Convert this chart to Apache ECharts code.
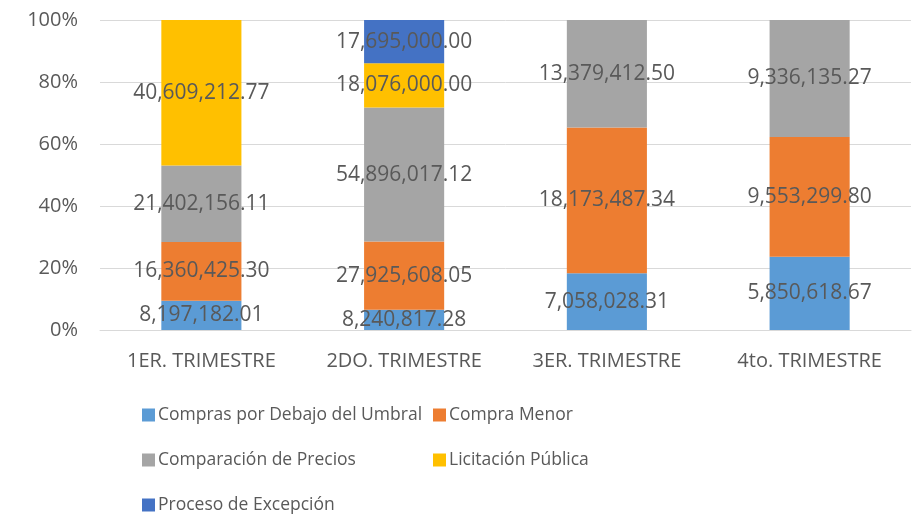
<!DOCTYPE html>
<html>
<head>
<meta charset="utf-8">
<script src="https://cdn.jsdelivr.net/npm/echarts@6/dist/echarts.min.js"></script>
<style>
  html, body { margin: 0; padding: 0; background: #fff; }
  #chart { width: 917px; height: 516px; }
</style>
</head>
<body>
<div id="chart"></div>
<script>
// datos por trimestre
const categories = ['1ER. TRIMESTRE', '2DO. TRIMESTRE', '3ER. TRIMESTRE', '4to. TRIMESTRE'];
const seriesNames = ['Compras por Debajo del Umbral', 'Compra Menor', 'Comparación de Precios', 'Licitación Pública', 'Proceso de Excepción'];
const umbral = [8197182.01, 8240817.28, 7058028.31, 5850618.67];
const menor = [16360425.30, 27925608.05, 18173487.34, 9553299.80];
const precios = [21402156.11, 54896017.12, 13379412.50, 9336135.27];
const licitacion = [40609212.77, 18076000.00, null, null];
const excepcion = [null, 17695000.00, null, null];
const yTicks = [0, 20, 40, 60, 80, 100];

const raw = [umbral, menor, precios, licitacion, excepcion];
const colors = ['#5B9BD5', '#ED7D31', '#A5A5A5', '#FFC000', '#4472C4'];
const font = 'Open Sans';
const txt = '#595959';

const totals = categories.map((c, i) => raw.reduce((s, arr) => s + (arr[i] || 0), 0));

const fmt = v => v.toLocaleString('en-US', { minimumFractionDigits: 2, maximumFractionDigits: 2 });

const series = seriesNames.map((name, k) => ({
    name: name,
    type: 'bar',
    stack: 'total',
    barWidth: '39.5%',
    itemStyle: { color: colors[k] },
    data: raw[k].map((v, i) => v == null ? null : { value: v / totals[i] * 100, raw: v }),
    label: {
        show: true,
        position: 'inside',
        color: txt,
        fontFamily: font,
        fontSize: 21,
        formatter: p => fmt(p.data.raw)
    }
}));

// leyenda en dos columnas
const legendPos = [[137, 401], [428, 401], [137, 446], [428, 446], [137, 491]];
const legends = seriesNames.map((name, k) => ({
    data: [name],
    left: legendPos[k][0],
    top: legendPos[k][1],
    icon: 'rect',
    itemWidth: 13,
    itemHeight: 13,
    itemGap: 0,
    selectedMode: false,
    textStyle: { color: txt, fontFamily: font, fontSize: 17.5, padding: [0, 0, 0, -2] }
}));

const chart = echarts.init(document.getElementById('chart'));
chart.setOption({
    backgroundColor: '#fff',
    animation: false,
    legend: legends,
    grid: { top: 20, left: 100, right: 6, bottom: 186, containLabel: false },
    xAxis: {
        type: 'category',
        data: categories,
        axisLine: { show: true, lineStyle: { color: '#D9D9D9', width: 1 } },
        axisTick: { show: false },
        axisLabel: { color: txt, fontFamily: font, fontSize: 20, margin: 21, interval: 0, hideOverlap: false }
    },
    yAxis: {
        type: 'value',
        min: yTicks[0],
        max: yTicks[yTicks.length - 1],
        interval: 20,
        axisLine: { show: false },
        axisTick: { show: false },
        splitLine: { lineStyle: { color: '#D9D9D9', width: 1 } },
        axisLabel: { color: txt, fontFamily: font, fontSize: 20, margin: 22, formatter: '{value}%' }
    },
    series: series
});
</script>
</body>
</html>
